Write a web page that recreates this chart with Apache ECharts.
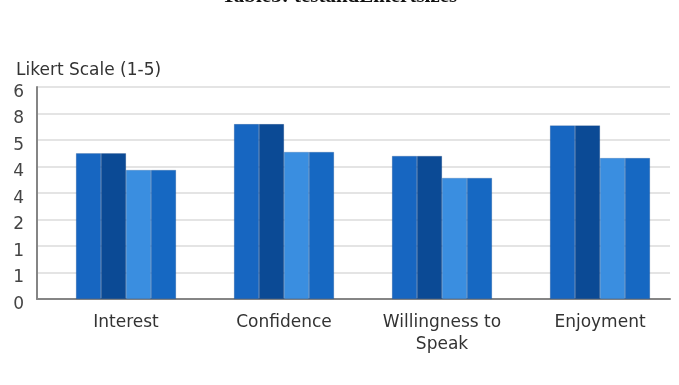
<!DOCTYPE html>
<html>
<head>
<meta charset="utf-8">
<script src="https://cdn.jsdelivr.net/npm/echarts@6/dist/echarts.min.js"></script>
<style>
html,body{margin:0;padding:0;background:#fff;}
#chart{width:679px;height:385px;}
</style>
</head>
<body>
<div id="chart"></div>
<script>
var categories = ['Interest', 'Confidence', 'Willingness to\nSpeak', 'Enjoyment'];
var series1 = [5.5, 6.6, 5.4, 6.55];
var series2 = [5.5, 6.6, 5.4, 6.55];
var series3 = [4.87, 5.55, 4.57, 5.32];
var series4 = [4.87, 5.55, 4.57, 5.32];
var yTickLabels = ['0', '1', '1', '2', '4', '4', '5', '8', '6'];
var axisTitle = 'Likert Scale (1-5)';
var topTitle = 'Table3: testandLikertsizes';

var colors = ['#1766c1', '#0b4a95', '#3a8ee0', '#1668c2'];
var font = 'DejaVu Sans';

var chart = echarts.init(document.getElementById('chart'));
function bar(name, data, color) {
  return {
    name: name, type: 'bar', xAxisIndex: 1, yAxisIndex: 1,
    data: data, barWidth: 25, barGap: '0%',
    itemStyle: { color: color, borderColor: 'rgba(10,50,110,0.35)', borderWidth: 0.5 }
  };
}
chart.setOption({
  backgroundColor: '#fff',
  animation: false,
  title: [
    { text: topTitle, left: 'center', top: -19,
      textStyle: { fontFamily: 'Liberation Serif', fontSize: 21, fontWeight: 'bold', color: '#111' } },
    { text: axisTitle, left: 11, top: 57,
      textStyle: { fontFamily: font, fontSize: 17, fontWeight: 'normal', color: '#333' } }
  ],
  grid: [
    { left: 37, width: 633, top: 87, height: 212 },
    { left: 47, width: 632, top: 87, height: 212 }
  ],
  xAxis: [
    { gridIndex: 0, type: 'category', data: categories,
      axisLine: { show: true, lineStyle: { color: '#858585', width: 2 } },
      axisTick: { show: false }, axisLabel: { show: false }, splitLine: { show: false } },
    { gridIndex: 1, type: 'category', data: categories,
      axisLine: { show: false }, axisTick: { show: false },
      axisLabel: { fontFamily: font, fontSize: 17, color: '#333', margin: 13, lineHeight: 22 } }
  ],
  yAxis: [
    { gridIndex: 0, type: 'value', min: 0, max: 8, interval: 1,
      axisLine: { show: true, lineStyle: { color: '#858585', width: 2 } },
      axisTick: { show: false }, axisLabel: { show: false },
      splitLine: { show: true, lineStyle: { color: '#e4e4e4', width: 2 } } },
    { gridIndex: 1, type: 'value', min: 0, max: 8, interval: 1, offset: 10,
      axisLine: { show: false }, axisTick: { show: false }, splitLine: { show: false },
      axisLabel: { fontFamily: font, fontSize: 17, color: '#444', margin: 13,
        verticalAlign: 'top', lineHeight: 11,
        formatter: function (v) { return yTickLabels[Math.round(v)]; } } }
  ],
  series: [
    bar('Series 1', series1, colors[0]),
    bar('Series 2', series2, colors[1]),
    bar('Series 3', series3, colors[2]),
    bar('Series 4', series4, colors[3])
  ]
});
</script>
</body>
</html>
